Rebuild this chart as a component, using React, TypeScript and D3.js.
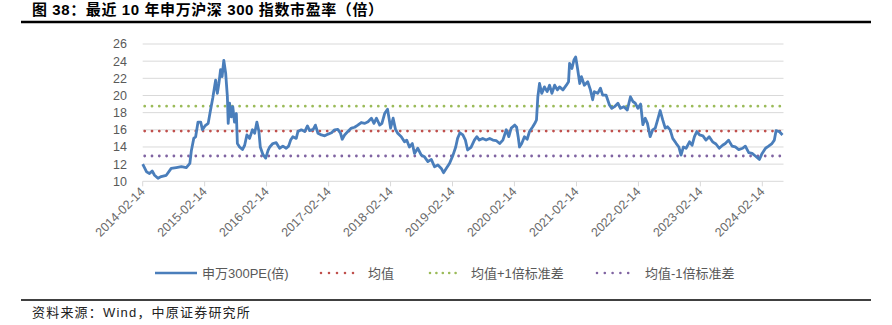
import React from "react";
import * as d3 from "d3";

const titleText = "图 38：最近 10 年申万沪深 300 指数市盈率（倍）";
const sourceText = "资料来源：Wind，中原证券研究所";
const seriesNames = ["申万300PE(倍)", "均值", "均值+1倍标准差", "均值-1倍标准差"];

const yTicks = [10, 12, 14, 16, 18, 20, 22, 24, 26];
const xTickLabels = ["2014-02-14", "2015-02-14", "2016-02-14", "2017-02-14", "2018-02-14", "2019-02-14", "2020-02-14", "2021-02-14", "2022-02-14", "2023-02-14", "2024-02-14"];

const meanPE = 15.85;
const upperPE = 18.75;
const lowerPE = 12.95;

const dates = [
  "2014-02-14","2014-03-09","2014-03-26","2014-04-11","2014-04-25","2014-05-15","2014-06-03","2014-07-03","2014-08-01","2014-08-31",
  "2014-09-30","2014-10-29","2014-11-19","2014-11-28","2014-12-12","2014-12-23","2015-01-06","2015-01-22","2015-02-01","2015-02-16",
  "2015-03-07","2015-03-19","2015-04-03","2015-04-20","2015-04-30","2015-05-09","2015-05-19","2015-05-28","2015-06-07","2015-06-18",
  "2015-06-28","2015-07-03","2015-07-11","2015-07-21","2015-07-30","2015-08-09","2015-08-20","2015-08-26","2015-09-08","2015-09-25",
  "2015-10-08","2015-10-21","2015-11-06","2015-11-23","2015-12-06","2015-12-19","2015-12-31","2016-01-08","2016-01-24","2016-02-09",
  "2016-02-23","2016-03-04","2016-03-22","2016-04-11","2016-05-01","2016-05-20","2016-06-09","2016-06-23","2016-07-05","2016-07-18",
  "2016-08-07","2016-08-17","2016-09-06","2016-09-26","2016-10-12","2016-10-25","2016-11-15","2016-11-28","2016-12-13","2017-01-02",
  "2017-01-22","2017-02-11","2017-03-03","2017-03-21","2017-04-09","2017-04-25","2017-05-05","2017-05-19","2017-06-07","2017-06-28",
  "2017-07-17","2017-08-05","2017-08-25","2017-09-15","2017-10-04","2017-10-24","2017-11-08","2017-11-23","2017-12-12","2017-12-25",
  "2018-01-10","2018-01-27","2018-02-05","2018-02-14","2018-03-01","2018-03-15","2018-03-28","2018-04-18","2018-05-07","2018-05-20",
  "2018-06-05","2018-06-22","2018-07-05","2018-07-24","2018-08-14","2018-09-02","2018-09-22","2018-10-12","2018-10-31","2018-11-20",
  "2018-12-10","2018-12-23","2019-01-08","2019-01-28","2019-02-17","2019-03-05","2019-03-16","2019-03-30","2019-04-16","2019-05-01",
  "2019-05-14","2019-06-03","2019-06-23","2019-07-07","2019-07-22","2019-08-11","2019-08-31","2019-09-21","2019-10-10","2019-10-29",
  "2019-11-19","2019-12-08","2019-12-28","2020-01-12","2020-01-26","2020-02-16","2020-02-27","2020-03-07","2020-03-15","2020-03-28",
  "2020-04-13","2020-04-29","2020-05-13","2020-06-01","2020-06-16","2020-06-23","2020-07-01","2020-07-11","2020-07-24","2020-08-09",
  "2020-08-25","2020-09-08","2020-09-22","2020-10-08","2020-10-24","2020-11-06","2020-11-26","2020-12-16","2020-12-29","2021-01-04",
  "2021-01-18","2021-01-30","2021-02-09","2021-02-20","2021-03-05","2021-03-15","2021-04-01","2021-04-21","2021-05-07","2021-05-20",
  "2021-05-30","2021-06-19","2021-07-05","2021-07-18","2021-08-07","2021-08-27","2021-09-10","2021-09-26","2021-10-16","2021-10-31",
  "2021-11-20","2021-12-10","2021-12-29","2022-01-12","2022-01-26","2022-02-11","2022-02-27","2022-03-12","2022-03-26","2022-04-08",
  "2022-04-24","2022-05-09","2022-05-24","2022-06-07","2022-06-22","2022-07-07","2022-07-22","2022-08-05","2022-08-20","2022-09-04",
  "2022-09-25","2022-10-10","2022-10-23","2022-11-06","2022-11-22","2022-12-12","2022-12-27","2023-01-10","2023-01-24","2023-02-09",
  "2023-03-01","2023-03-19","2023-04-07","2023-04-27","2023-05-17","2023-06-05","2023-06-25","2023-07-11","2023-07-30","2023-08-20",
  "2023-09-08","2023-09-28","2023-10-21","2023-11-06","2023-11-26","2023-12-16","2024-01-04","2024-01-28","2024-02-13","2024-03-04",
  "2024-03-22","2024-04-11","2024-04-25","2024-05-05","2024-05-24","2024-06-12"
];

const peValues = [
  12.0,11.1,10.9,11.2,10.7,10.35,10.55,10.7,11.5,11.6,
  11.7,11.6,12.1,13.6,15.0,15.2,16.9,16.9,16.0,16.45,
  16.75,18.1,19.7,21.8,20.25,21.4,23.0,22.2,24.1,22.6,
  19.9,16.75,19.1,17.5,18.7,16.9,17.9,14.4,14.0,13.7,
  14.2,15.4,15.0,16.0,15.6,16.9,15.8,14.0,13.1,12.7,
  13.6,14.0,14.4,14.5,13.85,14.1,13.85,14.1,14.8,15.2,
  15.0,15.8,16.0,15.8,16.45,15.9,16.05,16.55,15.6,15.4,
  15.3,15.5,15.65,16.0,16.05,15.6,14.9,15.4,15.8,16.2,
  16.3,16.55,16.85,16.75,16.95,17.35,16.75,17.35,16.55,16.75,
  17.9,18.4,17.35,16.2,17.35,16.05,15.6,15.2,14.6,14.8,
  14.0,14.4,13.25,13.85,13.05,12.85,12.3,12.55,11.7,11.9,
  11.5,11.0,11.5,12.1,13.05,14.0,15.0,15.65,15.4,14.8,
  13.65,13.95,14.8,15.2,14.8,15.0,14.8,15.0,14.8,14.75,
  14.4,14.8,16.0,15.2,16.2,16.55,16.3,15.2,14.0,14.4,
  15.2,14.9,15.8,16.35,16.85,17.15,19.85,21.4,20.25,21.0,
  20.45,21.2,20.25,21.2,20.65,21.0,20.65,21.2,21.6,23.75,
  23.15,24.15,24.5,23.15,21.4,22.2,21.2,21.6,20.65,19.5,
  20.45,20.25,20.85,20.05,20.05,18.9,18.5,18.7,19.1,18.5,
  18.7,18.3,19.85,19.3,19.1,18.5,19.0,16.6,17.35,16.75,
  15.2,16.0,16.2,17.15,18.25,17.15,16.2,16.35,16.0,15.0,
  14.4,14.0,13.05,14.0,13.85,14.6,14.2,15.2,15.8,15.4,
  15.3,14.8,15.2,14.6,14.35,13.85,14.2,14.4,14.8,14.1,
  14.0,13.7,13.85,14.1,13.35,13.25,12.95,12.55,13.25,13.85,
  14.1,14.4,14.8,15.9,15.8,15.4
];

const colors = {
  line: "#4a7ebb",
  mean: "#c0504d",
  upper: "#9bbb59",
  lower: "#8064a2",
  grid: "#d9d9d9",
  text: "#595959",
};

const parse = d3.utcParse("%Y-%m-%d");

export default function App() {
  const W = 892, H = 325;
  const left = 142.7, right = 783.5, top = 44, bottom = 181.3;
  const x = d3.scaleUtc()
    .domain([parse(xTickLabels[0])!, parse(xTickLabels[xTickLabels.length - 1])!])
    .range([left, 762.3]);
  const y = d3.scaleLinear().domain([10, 26]).range([bottom, top]);

  const data = dates.map((d, i) => ({ date: parse(d)!, v: peValues[i] }));
  const line = d3.line<{ date: Date; v: number }>()
    .x((d) => x(d.date))
    .y((d) => y(d.v));

  const refLines = [
    { v: meanPE, c: colors.mean },
    { v: upperPE, c: colors.upper },
    { v: lowerPE, c: colors.lower },
  ];

  const axisFont = "'Liberation Sans', Arial, sans-serif";
  const cjkFont = "'Liberation Sans', 'Noto Sans CJK SC', sans-serif";
  const legendY = 273;

  return (
    <svg width={W} height={H} style={{ position: "absolute", left: 0, top: 0, background: "#fff" }}>
      <rect x={0} y={0} width={W} height={H} fill="#fff" />
      {/* title */}
      <text x={32} y={15} fontFamily="'Liberation Sans', 'Noto Sans CJK SC', sans-serif" fontWeight="bold" fontSize={15} letterSpacing={0.6} fill="#000">
        {titleText}
      </text>
      <line x1={21} x2={871} y1={22} y2={22} stroke="#000" strokeWidth={2.3} />

      {/* grid */}
      {yTicks.map((t) => (
        <line key={"g" + t} x1={left} x2={right} y1={y(t)} y2={y(t)} stroke={colors.grid} strokeWidth={1} />
      ))}
      {yTicks.map((t) => (
        <text key={"yl" + t} x={127} y={y(t)} dy="0.35em" textAnchor="end" fontFamily={axisFont} fontSize={12.5} fill={colors.text}>
          {t}
        </text>
      ))}
      {/* x ticks */}
      {xTickLabels.map((s) => {
        const xx = x(parse(s)!);
        return (
          <g key={s}>
            <line x1={xx} x2={xx} y1={bottom} y2={bottom + 5} stroke={colors.grid} strokeWidth={1} />
            <text
              transform={`translate(${xx + 3},${bottom + 11}) rotate(-45)`}
              textAnchor="end"
              fontFamily={axisFont}
              fontSize={12.5}
              fill="#6a6a6a"
            >
              {s}
            </text>
          </g>
        );
      })}

      {/* reference lines */}
      {refLines.map((r) => (
        <line key={r.c} x1={left + 2} x2={right} y1={y(r.v)} y2={y(r.v)} stroke={r.c} strokeWidth={2.8}
          strokeLinecap="round" strokeDasharray="0 7.3" />
      ))}

      {/* series */}
      <path d={line(data) ?? ""} fill="none" stroke={colors.line} strokeWidth={2.8} strokeLinejoin="round" />

      {/* legend */}
      <line x1={155} x2={197} y1={legendY} y2={legendY} stroke={colors.line} strokeWidth={2.6} />
      <text x={202} y={legendY} dy="0.35em" fontFamily={cjkFont} fontSize={13} fill={colors.text}>{seriesNames[0]}</text>
      <line x1={321} x2={361} y1={legendY} y2={legendY} stroke={colors.mean} strokeWidth={2.6} strokeLinecap="round" strokeDasharray="0 8" />
      <text x={368} y={legendY} dy="0.35em" fontFamily={cjkFont} fontSize={13} fill={colors.text}>{seriesNames[1]}</text>
      <line x1={430} x2={462} y1={legendY} y2={legendY} stroke={colors.upper} strokeWidth={2.6} strokeLinecap="round" strokeDasharray="0 6.4" />
      <text x={471} y={legendY} dy="0.35em" fontFamily={cjkFont} fontSize={13} fill={colors.text}>{seriesNames[2]}</text>
      <line x1={597} x2={636} y1={legendY} y2={legendY} stroke={colors.lower} strokeWidth={2.6} strokeLinecap="round" strokeDasharray="0 7.8" />
      <text x={645} y={legendY} dy="0.35em" fontFamily={cjkFont} fontSize={13} fill={colors.text}>{seriesNames[3]}</text>

      {/* footer */}
      <line x1={21} x2={871} y1={300} y2={300} stroke="#000" strokeWidth={1.5} />
      <text x={32} y={317} fontFamily={cjkFont} fontSize={13} letterSpacing={1.2} fill="#222">{sourceText}</text>
    </svg>
  );
}
